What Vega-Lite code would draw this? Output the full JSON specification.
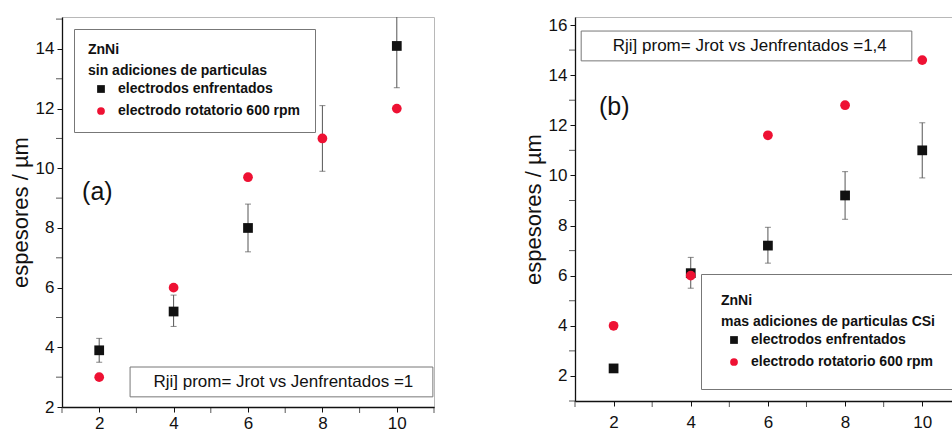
{
  "$schema": "https://vega.github.io/schema/vega-lite/v6.json",
  "padding": {"left": 8, "top": 15, "right": 0, "bottom": 0},
  "background": "white",
  "spacing": 86,
  "config": {
    "view": {"stroke": "#b8b8b8", "strokeWidth": 1},
    "axis": {
      "grid": false,
      "domainColor": "#111",
      "domainWidth": 1.3,
      "tickColor": "#111",
      "tickWidth": 1,
      "tickSize": 5,
      "labelFont": "Liberation Sans",
      "labelFontSize": 17,
      "labelColor": "#111",
      "labelOverlap": false,
      "labelFlush": false,
      "labelBound": false,
      "titleFont": "Liberation Sans",
      "titleFontSize": 22,
      "titleFontWeight": "normal",
      "titleColor": "#111"
    },
    "legend": {
      "strokeColor": "#777",
      "fillColor": "white",
      "padding": 14,
      "titleFont": "Liberation Sans",
      "titleFontWeight": "bold",
      "titleFontSize": 14,
      "titleColor": "#111",
      "titleLineHeight": 21,
      "titlePadding": 4,
      "titleLimit": 0,
      "labelFont": "Liberation Sans",
      "labelFontWeight": "bold",
      "labelFontSize": 14,
      "labelColor": "#111",
      "labelLimit": 0,
      "rowPadding": 8,
      "symbolOffset": 6,
      "labelOffset": 10,
      "symbolSize": 60,
      "symbolStrokeWidth": 0
    }
  },
  "datasets": {
    "a": [
      {"x": 2, "y": 3.9, "serie": "electrodos enfrentados", "lo": 3.5, "hi": 4.3},
      {"x": 4, "y": 5.2, "serie": "electrodos enfrentados", "lo": 4.7, "hi": 5.75},
      {"x": 6, "y": 8.0, "serie": "electrodos enfrentados", "lo": 7.2, "hi": 8.8},
      {"x": 10, "y": 14.1, "serie": "electrodos enfrentados", "lo": 12.7, "hi": 15.5},
      {"x": 2, "y": 3.0, "serie": "electrodo rotatorio 600 rpm"},
      {"x": 4, "y": 6.0, "serie": "electrodo rotatorio 600 rpm"},
      {"x": 6, "y": 9.7, "serie": "electrodo rotatorio 600 rpm"},
      {"x": 8, "y": 11.0, "serie": "electrodo rotatorio 600 rpm", "lo": 9.9, "hi": 12.1},
      {"x": 10, "y": 12.0, "serie": "electrodo rotatorio 600 rpm"}
    ],
    "b": [
      {"x": 2, "y": 2.3, "serie": "electrodos enfrentados", "lo": 2.15, "hi": 2.45},
      {"x": 4, "y": 6.1, "serie": "electrodos enfrentados", "lo": 5.5, "hi": 6.73},
      {"x": 6, "y": 7.2, "serie": "electrodos enfrentados", "lo": 6.5, "hi": 7.93},
      {"x": 8, "y": 9.2, "serie": "electrodos enfrentados", "lo": 8.25, "hi": 10.15},
      {"x": 10, "y": 11.0, "serie": "electrodos enfrentados", "lo": 9.9, "hi": 12.1},
      {"x": 2, "y": 4.0, "serie": "electrodo rotatorio 600 rpm"},
      {"x": 4, "y": 6.0, "serie": "electrodo rotatorio 600 rpm"},
      {"x": 6, "y": 11.6, "serie": "electrodo rotatorio 600 rpm"},
      {"x": 8, "y": 12.8, "serie": "electrodo rotatorio 600 rpm"},
      {"x": 10, "y": 14.6, "serie": "electrodo rotatorio 600 rpm"}
    ],
    "minorXA": [{"v": 1}, {"v": 3}, {"v": 5}, {"v": 7}, {"v": 9}, {"v": 11}],
    "minorYA": [{"v": 3}, {"v": 5}, {"v": 7}, {"v": 9}, {"v": 11}, {"v": 13}, {"v": 15}],
    "minorXB": [{"v": 1}, {"v": 3}, {"v": 5}, {"v": 7}, {"v": 9}, {"v": 11}],
    "minorYB": [{"v": 1}, {"v": 3}, {"v": 5}, {"v": 7}, {"v": 9}, {"v": 11}, {"v": 13}, {"v": 15}],
    "boxA": [{"x1": 2.83, "x2": 10.97, "y1": 2.34, "y2": 3.34, "t": "Rji] prom= Jrot vs Jenfrentados =1", "tx": 6.95, "ty": 2.84}],
    "boxB": [{"x1": 1.16, "x2": 9.73, "y1": 14.57, "y2": 15.76, "t": "Rji] prom= Jrot vs Jenfrentados =1,4", "tx": 5.53, "ty": 15.17}],
    "labA": [{"x": 1.54, "y": 9.21, "t": "(a)"}],
    "labB": [{"x": 1.62, "y": 12.74, "t": "(b)"}]
  },
  "hconcat": [
    {
      "width": 372,
      "height": 390,
      "layer": [
        {
          "data": {"name": "boxA"},
          "mark": {"type": "rect", "fill": "white", "stroke": "#777", "strokeWidth": 1},
          "encoding": {
            "x": {"field": "x1", "type": "quantitative", "scale": {"domain": [1, 11], "nice": false, "zero": false},
              "axis": {"title": null, "values": [2, 4, 6, 8, 10], "labelPadding": 3}},
            "x2": {"field": "x2"},
            "y": {"field": "y1", "type": "quantitative", "scale": {"domain": [2, 15.07], "nice": false, "zero": false},
              "axis": {"title": "espesores / µm", "values": [2, 4, 6, 8, 10, 12, 14], "labelPadding": 3, "titlePadding": 3}},
            "y2": {"field": "y2"}
          }
        },
        {
          "data": {"name": "minorXA"},
          "mark": {"type": "tick", "orient": "vertical", "color": "#111", "size": 6, "thickness": 1, "yOffset": 3},
          "encoding": {
            "x": {"field": "v", "type": "quantitative"},
            "y": {"datum": 2, "type": "quantitative"}
          }
        },
        {
          "data": {"name": "minorYA"},
          "mark": {"type": "tick", "orient": "horizontal", "color": "#111", "size": 6, "thickness": 1, "xOffset": -3},
          "encoding": {
            "x": {"datum": 1, "type": "quantitative"},
            "y": {"field": "v", "type": "quantitative"}
          }
        },
        {
          "data": {"name": "boxA"},
          "mark": {"type": "text", "font": "Liberation Sans", "fontSize": 17, "color": "#111", "align": "center", "baseline": "middle"},
          "encoding": {
            "x": {"field": "tx", "type": "quantitative"},
            "y": {"field": "ty", "type": "quantitative"},
            "text": {"field": "t"}
          }
        },
        {
          "data": {"name": "labA"},
          "mark": {"type": "text", "font": "Liberation Sans", "fontSize": 25, "color": "#111", "align": "left", "baseline": "middle"},
          "encoding": {
            "x": {"field": "x", "type": "quantitative"},
            "y": {"field": "y", "type": "quantitative"},
            "text": {"field": "t"}
          }
        },
        {
          "data": {"name": "a"},
          "transform": [{"filter": "isValid(datum.lo)"}],
          "mark": {"type": "rule", "color": "#555", "strokeWidth": 1, "clip": true},
          "encoding": {
            "x": {"field": "x", "type": "quantitative"},
            "y": {"field": "lo", "type": "quantitative"},
            "y2": {"field": "hi"}
          }
        },
        {
          "data": {"name": "a"},
          "transform": [{"filter": "isValid(datum.lo)"}, {"fold": ["lo", "hi"], "as": ["k", "v"]}],
          "mark": {"type": "tick", "orient": "horizontal", "color": "#555", "size": 6, "thickness": 1, "clip": true},
          "encoding": {
            "x": {"field": "x", "type": "quantitative"},
            "y": {"field": "v", "type": "quantitative"}
          }
        },
        {
          "data": {"name": "a"},
          "mark": {"type": "point", "filled": true, "opacity": 1, "size": 95},
          "encoding": {
            "x": {"field": "x", "type": "quantitative"},
            "y": {"field": "y", "type": "quantitative"},
            "color": {"field": "serie", "type": "nominal",
              "scale": {"domain": ["electrodos enfrentados", "electrodo rotatorio 600 rpm"], "range": ["#111111", "#ee1133"]},
              "legend": {"title": ["ZnNi", "sin adiciones de particulas"], "orient": "top-left", "offset": 12}},
            "shape": {"field": "serie", "type": "nominal",
              "scale": {"domain": ["electrodos enfrentados", "electrodo rotatorio 600 rpm"], "range": ["square", "circle"]},
              "legend": {"title": ["ZnNi", "sin adiciones de particulas"], "orient": "top-left", "offset": 12}},
            "order": {"field": "serie", "sort": "descending"}
          }
        }
      ]
    },
    {
      "width": 392,
      "height": 384,
      "layer": [
        {
          "data": {"name": "boxB"},
          "mark": {"type": "rect", "fill": "white", "stroke": "#777", "strokeWidth": 1},
          "encoding": {
            "x": {"field": "x1", "type": "quantitative", "scale": {"domain": [1, 11.16], "nice": false, "zero": false},
              "axis": {"title": null, "values": [2, 4, 6, 8, 10], "labelPadding": 8}},
            "x2": {"field": "x2"},
            "y": {"field": "y1", "type": "quantitative", "scale": {"domain": [1, 16.32], "nice": false, "zero": false},
              "axis": {"title": "espesores / µm", "values": [2, 4, 6, 8, 10, 12, 14, 16], "labelPadding": 3, "titlePadding": 3}},
            "y2": {"field": "y2"}
          }
        },
        {
          "data": {"name": "minorXB"},
          "mark": {"type": "tick", "orient": "vertical", "color": "#111", "size": 6, "thickness": 1, "yOffset": 3},
          "encoding": {
            "x": {"field": "v", "type": "quantitative"},
            "y": {"datum": 1, "type": "quantitative"}
          }
        },
        {
          "data": {"name": "minorYB"},
          "mark": {"type": "tick", "orient": "horizontal", "color": "#111", "size": 6, "thickness": 1, "xOffset": -3},
          "encoding": {
            "x": {"datum": 1, "type": "quantitative"},
            "y": {"field": "v", "type": "quantitative"}
          }
        },
        {
          "data": {"name": "boxB"},
          "mark": {"type": "text", "font": "Liberation Sans", "fontSize": 17, "color": "#111", "align": "center", "baseline": "middle"},
          "encoding": {
            "x": {"field": "tx", "type": "quantitative"},
            "y": {"field": "ty", "type": "quantitative"},
            "text": {"field": "t"}
          }
        },
        {
          "data": {"name": "labB"},
          "mark": {"type": "text", "font": "Liberation Sans", "fontSize": 25, "color": "#111", "align": "left", "baseline": "middle"},
          "encoding": {
            "x": {"field": "x", "type": "quantitative"},
            "y": {"field": "y", "type": "quantitative"},
            "text": {"field": "t"}
          }
        },
        {
          "data": {"name": "b"},
          "transform": [{"filter": "isValid(datum.lo)"}],
          "mark": {"type": "rule", "color": "#555", "strokeWidth": 1, "clip": true},
          "encoding": {
            "x": {"field": "x", "type": "quantitative"},
            "y": {"field": "lo", "type": "quantitative"},
            "y2": {"field": "hi"}
          }
        },
        {
          "data": {"name": "b"},
          "transform": [{"filter": "isValid(datum.lo)"}, {"fold": ["lo", "hi"], "as": ["k", "v"]}],
          "mark": {"type": "tick", "orient": "horizontal", "color": "#555", "size": 6, "thickness": 1, "clip": true},
          "encoding": {
            "x": {"field": "x", "type": "quantitative"},
            "y": {"field": "v", "type": "quantitative"}
          }
        },
        {
          "data": {"name": "b"},
          "mark": {"type": "point", "filled": true, "opacity": 1, "size": 95},
          "encoding": {
            "x": {"field": "x", "type": "quantitative"},
            "y": {"field": "y", "type": "quantitative"},
            "color": {"field": "serie", "type": "nominal",
              "scale": {"domain": ["electrodos enfrentados", "electrodo rotatorio 600 rpm"], "range": ["#111111", "#ee1133"]},
              "legend": {"title": ["ZnNi", "mas adiciones de particulas CSi"], "orient": "bottom-right", "offset": 12, "padding": 20}},
            "shape": {"field": "serie", "type": "nominal",
              "scale": {"domain": ["electrodos enfrentados", "electrodo rotatorio 600 rpm"], "range": ["square", "circle"]},
              "legend": {"title": ["ZnNi", "mas adiciones de particulas CSi"], "orient": "bottom-right", "offset": 12, "padding": 20}},
            "order": {"field": "serie", "sort": "descending"}
          }
        }
      ]
    }
  ],
  "resolve": {
    "scale": {"color": "independent", "shape": "independent"},
    "legend": {"color": "independent", "shape": "independent"}
  }
}
